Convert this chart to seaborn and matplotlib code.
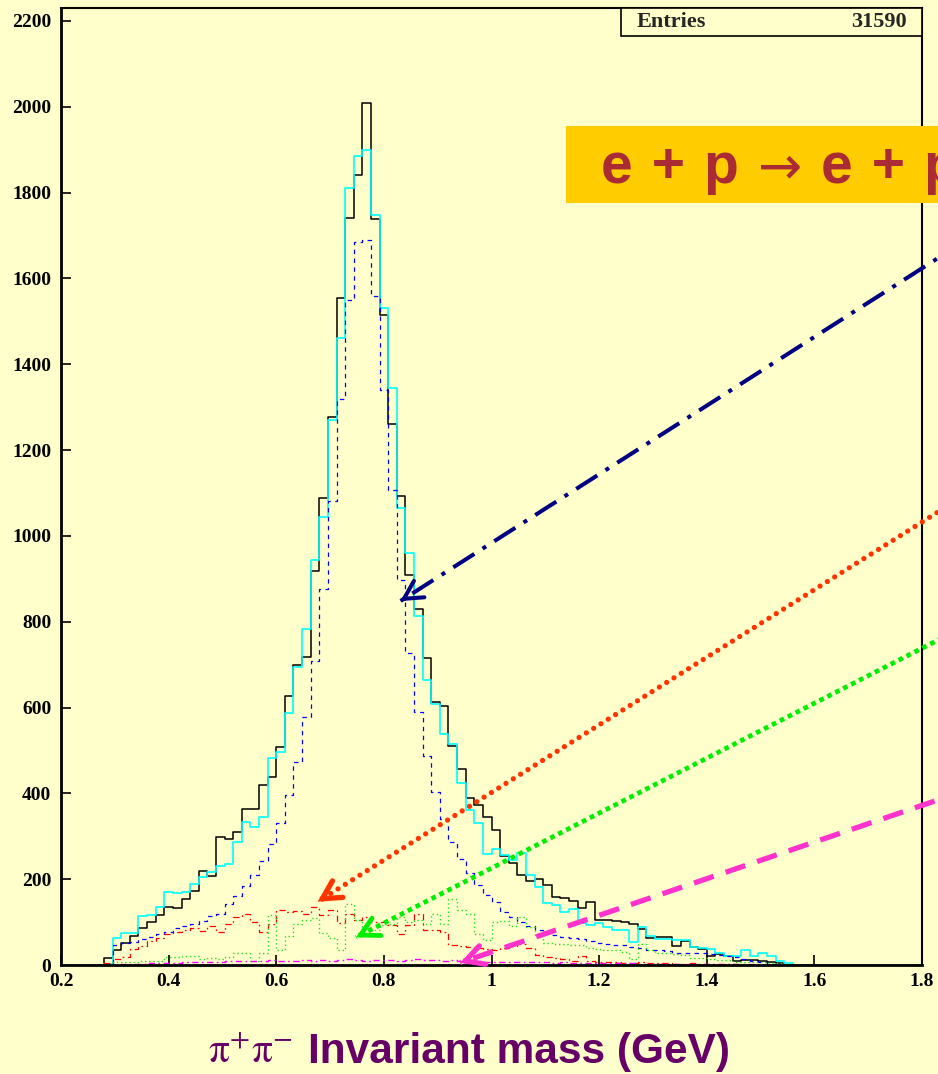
import numpy as np
import matplotlib
matplotlib.use("Agg")
import matplotlib.pyplot as plt
from matplotlib.patches import Rectangle
import seaborn as sns

# pi+ pi- invariant mass, 100 bins of 16 MeV between 0.2 and 1.8 GeV
mass_lo, mass_hi, n_bins = 0.2, 1.8, 100

data_counts = [
    0, 0, 0, 0, 0, 17, 36, 52, 67, 86,
    100, 117, 136, 132, 154, 172, 220, 207, 299, 293,
    309, 363, 364, 420, 439, 507, 627, 699, 717, 917,
    1088, 1277, 1555, 1740, 1840, 2008, 1738, 1515, 1260, 1092,
    909, 830, 716, 614, 604, 510, 456, 390, 372, 344,
    314, 255, 237, 210, 195, 201, 187, 159, 156, 150,
    132, 147, 106, 104, 102, 100, 95, 85, 64, 65,
    66, 44, 56, 41, 38, 22, 26, 20, 10, 11,
    12, 10, 8, 5, 0, 0, 0, 0, 0, 0,
    0, 0, 0, 0, 0, 0, 0, 0, 0, 0,
]

mc_total = [
    0, 0, 0, 0, 0, 2, 62, 74, 75, 115,
    116, 136, 171, 167, 171, 188, 204, 216, 230, 235,
    287, 334, 322, 344, 483, 496, 587, 695, 783, 944,
    1044, 1270, 1460, 1810, 1886, 1898, 1748, 1530, 1345, 1064,
    961, 813, 664, 608, 538, 514, 425, 361, 330, 258,
    270, 256, 245, 262, 210, 181, 144, 140, 124, 130,
    97, 94, 97, 88, 82, 82, 54, 88, 68, 60,
    60, 59, 59, 41, 39, 38, 29, 22, 22, 35,
    20, 27, 20, 9, 4, 0, 0, 0, 0, 0,
    0, 0, 0, 0, 0, 0, 0, 0, 0, 0,
]

rho_counts = [
    0, 0, 0, 0, 0, 0, 47, 52, 54, 61,
    66, 72, 78, 86, 91, 96, 103, 115, 120, 141,
    161, 183, 209, 243, 282, 332, 396, 474, 577, 709,
    876, 1082, 1320, 1550, 1685, 1690, 1558, 1340, 1107, 897,
    727, 590, 486, 404, 340, 287, 246, 214, 186, 164,
    146, 124, 113, 100, 90, 82, 74, 70, 65, 62,
    60, 55, 52, 50, 47, 46, 43, 40, 36, 34,
    32, 29, 28, 27, 27, 26, 24, 22, 18, 14,
    10, 6, 3, 1, 0, 0, 0, 0, 0, 0,
    0, 0, 0, 0, 0, 0, 0, 0, 0, 0,
]

red_counts = [
    0, 0, 0, 0, 0, 4, 14, 18, 38, 44,
    55, 62, 72, 78, 82, 86, 80, 92, 78, 95,
    113, 118, 101, 76, 95, 128, 124, 126, 120, 134,
    117, 128, 97, 120, 105, 113, 101, 101, 93, 72,
    93, 120, 82, 82, 78, 47, 44, 42, 40, 38,
    36, 40, 44, 48, 40, 24, 18, 16, 15, 10,
    20, 9, 8, 8, 6, 5, 4, 6, 5, 4,
    4, 3, 3, 4, 3, 3, 2, 2, 2, 2,
    2, 1, 1, 0, 0, 0, 0, 0, 0, 0,
    0, 0, 0, 0, 0, 0, 0, 0, 0, 0,
]

green_counts = [
    0, 0, 0, 0, 0, 0, 6, 8, 8, 10,
    9, 10, 18, 18, 22, 20, 14, 16, 15, 18,
    29, 29, 9, 29, 117, 35, 68, 96, 105, 110,
    75, 62, 35, 141, 105, 86, 82, 93, 96, 113,
    101, 105, 96, 120, 96, 153, 128, 120, 72, 58,
    101, 103, 91, 113, 88, 68, 51, 50, 50, 47,
    46, 40, 38, 35, 35, 30, 14, 48, 35, 27,
    27, 25, 24, 17, 16, 14, 12, 12, 8, 8,
    8, 6, 5, 4, 2, 0, 0, 0, 0, 0,
    0, 0, 0, 0, 0, 0, 0, 0, 0, 0,
]

magenta_counts = [
    0, 0, 0, 0, 0, 0, 1, 2, 2, 3,
    4, 4, 5, 5, 6, 6, 7, 7, 8, 9,
    9, 10, 9, 10, 11, 10, 9, 10, 11, 10,
    12, 10, 11, 13, 12, 10, 11, 12, 11, 10,
    12, 13, 12, 11, 10, 11, 10, 9, 9, 8,
    8, 7, 7, 6, 7, 6, 6, 5, 6, 5,
    5, 5, 4, 5, 4, 4, 4, 3, 3, 3,
    3, 3, 2, 3, 2, 2, 2, 2, 2, 1,
    1, 1, 1, 1, 0, 0, 0, 0, 0, 0,
    0, 0, 0, 0, 0, 0, 0, 0, 0, 0,
]

x_ticks = [0.2, 0.4, 0.6, 0.8, 1.0, 1.2, 1.4, 1.6, 1.8]
x_tick_labels = ["0.2", "0.4", "0.6", "0.8", "1", "1.2", "1.4", "1.6", "1.8"]
y_ticks = [0, 200, 400, 600, 800, 1000, 1200, 1400, 1600, 1800, 2000, 2200]
y_tick_labels = [str(v) for v in y_ticks]
n_entries = 31590

bg = "#FFFFCC"
sns.set_style("ticks")
plt.rcParams["lines.scale_dashes"] = False
plt.rcParams["mathtext.fontset"] = "stix"
plt.rcParams["font.family"] = ["Liberation Serif", "DejaVu Serif"]

fig = plt.figure(figsize=(9.38, 10.74), dpi=100, facecolor=bg)
ax = fig.add_axes([61 / 938, 1 - 965 / 1074, 861 / 938, 957 / 1074])
ax.set_facecolor(bg)

edges = np.linspace(mass_lo, mass_hi, n_bins + 1)
centers = 0.5 * (edges[:-1] + edges[1:])

series = [
    (data_counts, "black", "-", 1.1),
    (mc_total, "#00FFFF", "-", 1.2),
    (rho_counts, "#0000FF", (0, (3.2, 3.2)), 0.9),
    (red_counts, "#FF0000", (0, (4.5, 2.5, 1.2, 2.5)), 0.9),
    (green_counts, "#22DD22", (0, (1.0, 2.0)), 1.0),
    (magenta_counts, "#FF00FF", (0, (4.5, 2.5, 1.2, 2.5)), 1.0),
]
for counts, color, ls, lw in series:
    sns.histplot(x=centers, weights=counts, bins=edges.tolist(), element="step",
                 fill=False, color=color, linestyle=ls, linewidth=lw, ax=ax)

ax.set_xlim(mass_lo, mass_hi)
ax.set_ylim(0, 2230)
ax.set_xlabel("")
ax.set_ylabel("")
ax.set_xticks(x_ticks, x_tick_labels)
ax.set_yticks(y_ticks, y_tick_labels)
ax.tick_params(direction="in", length=7, width=1.2, labelsize=14, colors="black")
ax.tick_params(axis="x", pad=6)
ax.tick_params(axis="y", pad=7)
for lbl in ax.get_xticklabels() + ax.get_yticklabels():
    lbl.set_fontweight("bold")
for side, w in [("left", 2.0), ("bottom", 2.0), ("top", 1.5), ("right", 1.5)]:
    ax.spines[side].set_visible(True)
    ax.spines[side].set_linewidth(w)
    ax.spines[side].set_color("black")

# statistics box
ax.add_patch(Rectangle((0.6504, 0.9707), 0.3496, 0.0293, transform=ax.transAxes,
                       facecolor=bg, edgecolor="black", lw=1.2, zorder=5))
ax.text(0.669, 0.9852, "Entries", transform=ax.transAxes, ha="left", va="center",
        fontsize=16, fontweight="bold", zorder=6)
ax.text(0.9826, 0.9852, str(n_entries), transform=ax.transAxes, ha="right",
        va="center", fontsize=16, fontweight="bold", zorder=6)

# process banner: reaction written in three pieces so the arrow stays thin
banner_color = "#AA2B33"
sans = ["Liberation Sans", "DejaVu Sans"]
sp = "\u2004"
fig.patches.append(Rectangle((566 / 938, 1 - 203 / 1074), 0.5, 77 / 1074,
                             transform=fig.transFigure, facecolor="#FFCC00",
                             edgecolor="none", zorder=10))
base_y = 1 - 183 / 1074
fig.text(601 / 938, base_y, f"e{sp}+{sp}p", fontsize=41, fontweight="bold",
         color=banner_color, family=sans, ha="left", va="baseline", zorder=11)
fig.text(758 / 938, base_y, "\u2192", fontsize=38, fontweight="normal",
         color=banner_color, family=["DejaVu Sans"], ha="left", va="baseline",
         zorder=11)
fig.text(821 / 938, base_y, f"e{sp}+{sp}p{sp}+{sp}\u03c1\u2070", fontsize=41,
         fontweight="bold", color=banner_color, family=sans, ha="left",
         va="baseline", zorder=11)

# axis title
purple = "#660066"
fig.text(208 / 938, 1 - 1063 / 1074, r"$\mathrm{\pi}^{+}\mathrm{\pi}^{-}$",
         fontsize=30, color=purple, ha="left", va="baseline")
fig.text(308 / 938, 1 - 1063 / 1074, "Invariant mass (GeV)", fontsize=30.5,
         fontweight="bold", color=purple, family=sans, ha="left", va="baseline")


def pointer(tip, tail, color, ls, lw, capstyle="butt"):
    """Long styled shaft from outside the frame with a solid open head."""
    ax.annotate("", xy=tip, xycoords="data", xytext=tail, textcoords="figure fraction",
                arrowprops=dict(arrowstyle="-", color=color, lw=lw, linestyle=ls,
                                shrinkA=0, shrinkB=0, capstyle=capstyle),
                annotation_clip=False, zorder=12)
    p_tip = ax.transData.transform(tip)
    p_tail = fig.transFigure.transform(tail)
    u = (p_tail - p_tip) / np.hypot(*(p_tail - p_tip))
    ax.annotate("", xy=tip, xycoords="data", xytext=(u[0] * 4, u[1] * 4),
                textcoords="offset points",
                arrowprops=dict(arrowstyle="->,head_length=1.3,head_width=0.7",
                                color=color, lw=lw, shrinkA=0, shrinkB=0,
                                joinstyle="miter"),
                annotation_clip=False, zorder=12)


pointer((0.8307, 848), (1.03, 0.7764), "#000080", (0, (18, 7, 3, 7)), 2.9)
pointer((0.6769, 147.5), (1.03, 0.5397), "#FF3300", (0, (0.01, 6.2)), 3.8, "round")
pointer((0.7482, 64.5), (1.03, 0.4174), "#00EE00", (0, (3.4, 3.0)), 3.4)
pointer((0.9417, 5.4), (1.03, 0.2641), "#FF33CC", (0, (15, 9)), 3.8)

fig.savefig("out.png", dpi=100, facecolor=bg)
